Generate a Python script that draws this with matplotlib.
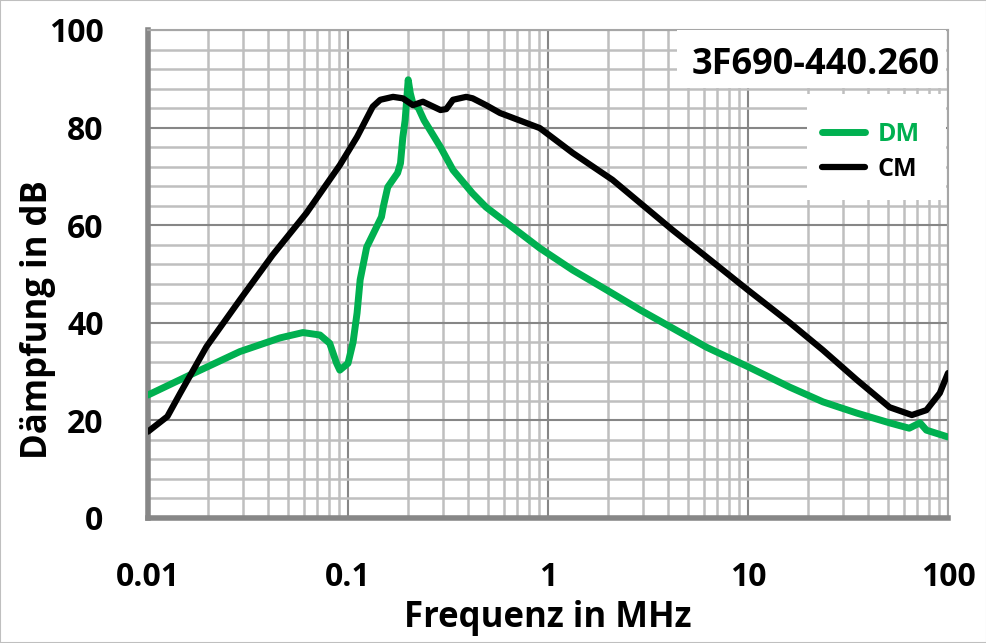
import numpy as np
import matplotlib
matplotlib.use("Agg")
import matplotlib.pyplot as plt
from matplotlib.patches import Rectangle
from matplotlib.ticker import LogLocator, MultipleLocator, FixedLocator, FixedFormatter

plt.rcParams['font.family'] = ['Open Sans', 'DejaVu Sans']
plt.rcParams['font.weight'] = 'bold'

# --- data ---
cm_freq = [0.01, 0.0125, 0.0145, 0.0196, 0.0288, 0.042, 0.062, 0.091, 0.111, 0.133,
           0.145, 0.168, 0.188, 0.211, 0.237, 0.29, 0.31, 0.335, 0.39, 0.42, 0.49, 0.575,
           0.91, 1.33, 2.1, 2.9, 4.2, 6.2, 10.0, 16.2, 23.7, 35.0, 51.0, 66.0, 78.0, 91.0, 100.0]
cm_db = [17.7, 20.8, 25.6, 35.1, 44.7, 53.9, 62.5, 72.3, 78.1, 84.3,
         85.7, 86.3, 86.0, 84.6, 85.3, 83.6, 83.8, 85.7, 86.3, 86.0, 84.6, 83.0,
         79.9, 74.8, 69.3, 64.5, 59.0, 53.5, 46.7, 40.0, 34.4, 28.3, 22.7, 21.1, 22.1, 25.6, 29.7]

dm_freq = [0.01, 0.0162, 0.0288, 0.0457, 0.0595, 0.0724, 0.081, 0.0877, 0.091, 0.1,
           0.106, 0.111, 0.115, 0.124, 0.147, 0.15, 0.158, 0.177, 0.183, 0.188, 0.193, 0.2,
           0.205, 0.211, 0.225, 0.24, 0.29, 0.335, 0.42, 0.49, 0.91, 1.33, 1.97, 2.9, 4.2, 6.2,
           10.0, 16.2, 23.7, 35.0, 51.0, 64.0, 72.4, 78.0, 100.0]
dm_db = [25.2, 29.3, 34.1, 36.9, 38.0, 37.5, 35.8, 31.7, 30.3, 31.7,
         36.0, 42.0, 48.8, 55.5, 61.7, 63.7, 67.8, 70.7, 72.7, 78.0, 81.5, 89.8,
         87.0, 85.0, 84.0, 81.5, 76.0, 71.3, 66.5, 63.7, 55.3, 50.8, 46.7, 42.6, 38.9, 35.0,
         31.0, 26.8, 23.8, 21.5, 19.5, 18.4, 19.5, 18.0, 16.6]

x_ticks = [0.01, 0.1, 1, 10, 100]
x_tick_labels = ['0.01', '0.1', '1', '10', '100']
y_ticks = [0, 20, 40, 60, 80, 100]

fig = plt.figure(figsize=(9.87, 6.43), dpi=100)
ax = fig.add_axes([148 / 987, 1 - 518 / 643, 800 / 987, 488 / 643])

ax.set_xscale('log')
ax.set_xlim(0.01, 100)
ax.set_ylim(0, 100)

ax.xaxis.set_major_locator(FixedLocator(x_ticks))
ax.xaxis.set_major_formatter(FixedFormatter(x_tick_labels))
ax.xaxis.set_minor_locator(LogLocator(base=10, subs=np.arange(2, 10)))
ax.xaxis.set_minor_formatter(plt.NullFormatter())
ax.yaxis.set_major_locator(FixedLocator(y_ticks))
ax.yaxis.set_minor_locator(MultipleLocator(4))

ax.grid(which='major', color='#868686', linewidth=1.5, zorder=0)
ax.grid(which='minor', color='#BFBFBF', linewidth=1.8, zorder=0)
ax.set_axisbelow(True)

ax.tick_params(which='both', length=0)
ax.tick_params(axis='x', pad=31, labelsize=23)
ax.tick_params(axis='y', pad=32, labelsize=23)

for side in ['left', 'bottom']:
    ax.spines[side].set_color('#878787')
    ax.spines[side].set_linewidth(4)
for side in ['top', 'right']:
    ax.spines[side].set_color('#A6A6A6')
    ax.spines[side].set_linewidth(1.5)

ax.plot(dm_freq, dm_db, color='#00B050', linewidth=5, label='DM', zorder=3,
        solid_joinstyle='round', solid_capstyle='round')
ax.plot(cm_freq, cm_db, color='black', linewidth=4.5, label='CM', zorder=4,
        solid_joinstyle='round', solid_capstyle='round')

# axis titles
fig.text(548 / 987, 1 - 627 / 643, 'Frequenz in MHz', fontsize=25, fontweight='bold',
         ha='center', va='baseline')
fig.text(38 / 987, 1 - 320 / 643, 'Dämpfung in dB', fontsize=25, fontweight='bold',
         ha='center', va='center', rotation=90)

# white boxes over the grid for title and legend
ax.add_patch(Rectangle((0.661, 0.881), 0.337, 0.119, transform=ax.transAxes,
                       facecolor='white', edgecolor='none', zorder=5))
ax.add_patch(Rectangle((0.824, 0.652), 0.174, 0.217, transform=ax.transAxes,
                       facecolor='white', edgecolor='none', zorder=5))

ax.text(0.834, 0.928, '3F690-440.260', transform=ax.transAxes, fontsize=26,
        fontweight='bold', ha='center', va='center', zorder=6)

leg = ax.legend(loc='center left', bbox_to_anchor=(0.842, 0.75), fontsize=18,
                frameon=False, handlelength=1.75, handletextpad=0.5,
                borderpad=0, labelspacing=0.4, labelcolor='linecolor', borderaxespad=0)
leg.set_zorder(7)
for t in leg.get_texts():
    t.set_fontweight('bold')

fig.patches.append(Rectangle((0, 0), 1, 1, transform=fig.transFigure,
                             fill=False, edgecolor='#BFBFBF', linewidth=1.5))

fig.savefig('out.png', dpi=100)
